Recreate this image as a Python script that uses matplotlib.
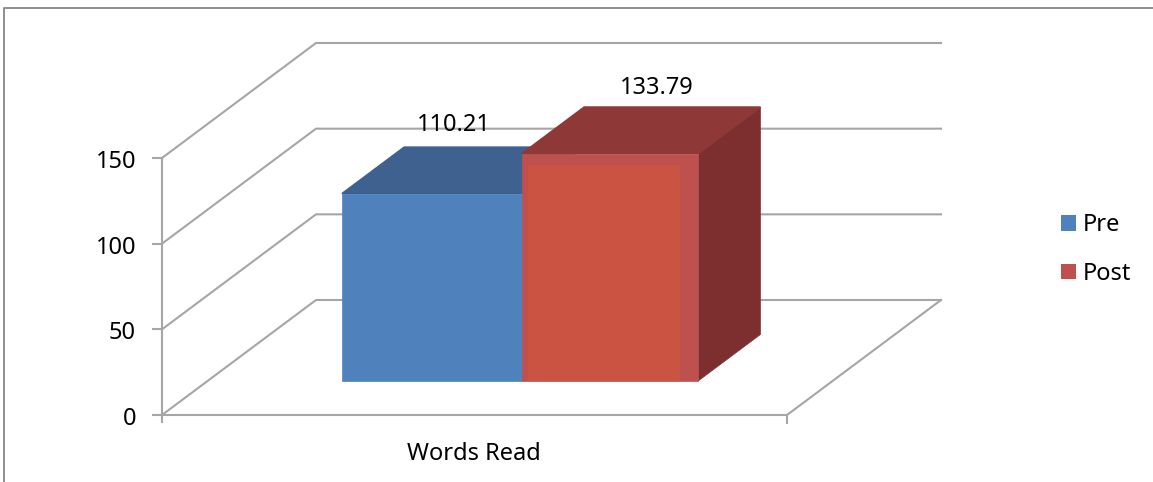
import matplotlib
matplotlib.use("Agg")
import matplotlib.pyplot as plt
from matplotlib.patches import Polygon, Patch

# data
categories = ["Words Read"]
series_names = ["Pre", "Post"]
series_values = [110.21, 133.79]
y_ticks = [0, 50, 100, 150]

# colours: front, top, side
front_cols = ["#4F81BD", "#BE504E"]
top_cols = ["#3E618F", "#8E3938"]
side_cols = ["#3A5A85", "#7C2F2E"]
inner_col = "#CB5342"
grid_col = "#A6A6A6"
border_col = "#868686"

# oblique projection of the 3D box, in pixels
W, H = 1153, 482
x0, x1 = 162, 787
y_zero, y_top = 415, 158
ymax = 150
depth_dx, depth_dy = 154, -115
bar_d0, bar_d1 = 0.296, 0.70
bar_edges = [0.215, 0.503, 0.785]
bar_shrink = 0.992
font = "Noto Sans"
fs = 17
lw = 1.5


def pt(x, v, d):
    px = x0 + x * (x1 - x0) + d * depth_dx
    py = y_zero - v / ymax * (y_zero - y_top) + d * depth_dy
    return (px, py)


def bar_pt(x, v, d):
    return pt(x, v * bar_shrink, d)


plt.rcParams['font.family'] = font
fig = plt.figure(figsize=(W / 100, H / 100), dpi=100)
ax = fig.add_axes([0, 0, 1, 1])
ax.set_xlim(0, W)
ax.set_ylim(H, 0)
ax.axis("off")

# chart area border
ax.plot([4, 4, W], [H, 8, 8], color=border_col, lw=1.3, zorder=1)

# walls and gridlines
for v in y_ticks:
    a, b, c = pt(0, v, 0), pt(0, v, 1), pt(1, v, 1)
    ax.plot([a[0], b[0], c[0]], [a[1], b[1], c[1]], color=grid_col, lw=lw, zorder=1)
    ax.plot([a[0] - 9, a[0]], [a[1], a[1]], color=grid_col, lw=lw, zorder=1)
    ax.text(a[0] - 26, a[1] + 4, str(v), ha="right", va="center", fontsize=fs, color="black")

# floor and axes
f = [pt(0, 0, 0), pt(1, 0, 0), pt(1, 0, 1)]
ax.plot([p[0] for p in f], [p[1] for p in f], color=grid_col, lw=lw, zorder=1)
ax.plot([x0, x0], [pt(0, ymax, 0)[1], y_zero + 7], color=grid_col, lw=lw, zorder=1)
ax.plot([x1, x1], [y_zero, y_zero + 8], color=grid_col, lw=lw, zorder=1)
ax.text((x0 + x1) / 2 - 0.5, 454, categories[0], ha="center", va="center", fontsize=fs, color="black")

# bars, drawn back to front; only the last bar shows its side
for i, v in enumerate(series_values):
    xa, xb = bar_edges[i], bar_edges[i + 1]
    top = [bar_pt(xa, v, bar_d0), bar_pt(xb, v, bar_d0), bar_pt(xb, v, bar_d1), bar_pt(xa, v, bar_d1)]
    side = [bar_pt(xb, 0, bar_d0), bar_pt(xb, v, bar_d0), bar_pt(xb, v, bar_d1), bar_pt(xb, 0, bar_d1)]
    front = [bar_pt(xa, 0, bar_d0), bar_pt(xb, 0, bar_d0), bar_pt(xb, v, bar_d0), bar_pt(xa, v, bar_d0)]
    if i == len(series_values) - 1:
        ax.add_patch(Polygon(side, closed=True, fc=side_cols[i], ec=side_cols[i], lw=0.5, zorder=2 + i))
    ax.add_patch(Polygon(top, closed=True, fc=top_cols[i], ec=top_cols[i], lw=1.2, zorder=2 + i))
    ax.add_patch(Polygon(front, closed=True, fc=front_cols[i], ec=front_cols[i], lw=0.5, zorder=2 + i))

# lighter inner panel of the Post front face
xa, xb = front[0][0], front[1][0]
yb, yt = front[0][1], front[2][1]
ax.add_patch(Polygon([(xa + 6, yb), (xb - 18, yb), (xb - 18, yt + 11), (xa + 6, yt + 11)],
                     closed=True, fc=inner_col, ec="none", zorder=4))

# value labels
label_pos = [(454, 125), (657, 88)]
for (lx, ly), v in zip(label_pos, series_values):
    ax.text(lx, ly, f"{v:.2f}", ha="center", va="center", fontsize=fs, color="black", zorder=6)

# legend
handles = [Patch(fc=c, ec="none", label=n) for c, n in zip(front_cols, series_names)]
ax.legend(handles=handles, loc="center left", bbox_to_anchor=(1056 / W, 1 - 249.5 / H), frameon=False,
          fontsize=fs, handlelength=0.635, handleheight=0.635, handletextpad=0.3,
          labelspacing=1.05, borderaxespad=0, borderpad=0.2)

fig.savefig("out.png", dpi=100)
